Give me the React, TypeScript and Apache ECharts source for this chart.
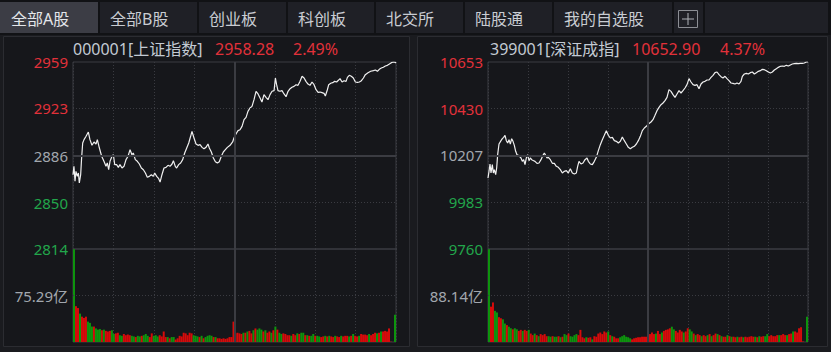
import React, { useEffect, useRef } from 'react';
import * as echarts from 'echarts';

// ---------- data ----------
const tabLabels = ['全部A股', '全部B股', '创业板', '科创板', '北交所', '陆股通', '我的自选股'];

const shName = '000001[上证指数]';
const shLast = '2958.28';
const shPct = '2.49%';
const shTicks = [2814, 2850, 2886, 2923, 2959];
const shVolTick = 75.29;
const shMinutes = [
  0, 0.7, 1.5, 2.2, 3.2, 4, 4.7, 5.7, 6.4, 7.2, 8.2, 9.7, 11.4, 12.6, 14.1, 15.6, 17.1, 18.1, 19.6, 21.3,
  23, 24.5, 25.5, 26.5, 27.5, 29, 30, 31, 32.4, 33.7, 34.9, 36.4, 37.9, 39.4, 40.9, 42.4, 43.8, 44.8, 46.3, 47.8,
  49.3, 50.8, 52.3, 53.8, 55.2, 56.7, 58.2, 59.7, 60.7, 62.2, 63.7, 64.7, 66.1, 67.6, 69.1, 70.6, 72.1, 73.6, 74.6, 76,
  77, 78.5, 80, 81.5, 83, 84.5, 86, 87.4, 88.4, 89.9, 91.4, 92.9, 94.4, 95.9, 97.3, 98.8, 100.3, 101.3, 102.8, 104.3,
  105.8, 107.3, 108.7, 110.2, 111.7, 113.2, 114.7, 116.7, 118.6,
  119.6, 121.1, 122.6, 124.1, 125.6, 127.1, 128.6, 130, 131.5, 133, 134.5, 136, 137.5, 139, 140.4, 141.9, 143.4, 144.9,
  146.4, 147.9, 149.4, 150.4, 151.3, 152.3, 153.8, 155.3, 156.8, 158.3, 159.8, 161.3, 162.7, 164.2, 165.7, 167.2, 168.7,
  170.2, 171.7, 173.1, 174.6, 176.1, 177.6, 179.1, 180.6, 182.1, 183.5, 185, 186.5, 187.5, 189, 190, 191.5, 193, 194.4,
  195.9, 197.4, 198.4, 199.9, 201.4, 202.9, 203.9, 205.3, 206.8, 208.3, 209.8, 211.3, 212.8, 214.3, 215.8, 217.2, 219.2,
  221.2, 223.2, 224.7, 226.2, 227.6, 229.1, 230.6, 232.1, 233.6, 235.1, 236.6, 238, 239.5, 240,
];
const shPrices = [
  2871.6, 2878.1, 2866.5, 2874.2, 2870.3, 2872.9, 2865.2, 2871.6, 2884.6, 2896.2, 2898.8, 2901.4, 2904.7, 2898.8, 2894.4, 2897.0, 2895.4, 2898.8, 2892.3, 2885.9,
  2882.0, 2878.1, 2880.7, 2875.5, 2882.0, 2885.9, 2887.1, 2879.4, 2879.4, 2877.3, 2879.4, 2876.8, 2878.1, 2883.3, 2885.9, 2891.0, 2887.1, 2888.4, 2883.3, 2882.0,
  2879.9, 2876.8, 2875.5, 2872.9, 2869.6, 2870.3, 2871.6, 2870.3, 2872.9, 2870.3, 2868.5, 2865.9, 2871.6, 2876.8, 2877.3, 2878.9, 2878.1, 2879.9, 2882.5, 2878.1,
  2876.8, 2879.4, 2880.7, 2883.3, 2888.4, 2892.3, 2896.2, 2901.4, 2905.2, 2900.1, 2895.4, 2894.4, 2894.9, 2892.8, 2891.8, 2892.8, 2895.4, 2892.3, 2889.2, 2884.6,
  2881.7, 2880.7, 2881.7, 2885.9, 2889.2, 2891.0, 2892.8, 2894.4, 2897.0,
  2900.1, 2903.2, 2905.8, 2906.5, 2909.1, 2914.3, 2916.1, 2920.7, 2923.3, 2924.6, 2929.8, 2936.3, 2934.2, 2931.1, 2928.0, 2933.7, 2931.6, 2929.8,
  2933.7, 2936.3, 2936.8, 2946.6, 2941.4, 2936.8, 2936.3, 2936.8, 2934.2, 2932.1, 2936.3, 2938.3, 2939.4, 2940.1, 2941.4, 2940.9, 2944.0,
  2947.9, 2946.6, 2944.0, 2941.9, 2940.9, 2943.5, 2941.4, 2937.5, 2935.5, 2935.7, 2935.2, 2934.7, 2932.6, 2937.5, 2941.4, 2942.5, 2943.0, 2944.0,
  2943.5, 2945.0, 2946.1, 2943.5, 2944.5, 2944.0, 2947.1, 2948.7, 2947.9, 2946.6, 2943.5, 2943.2, 2943.5, 2944.5, 2946.6, 2949.2, 2950.7,
  2951.8, 2952.3, 2952.8, 2951.8, 2953.3, 2954.3, 2954.9, 2955.9, 2956.4, 2957.4, 2958.5, 2959.0, 2958.7, 2958.28,
];
const shVolumes = [
  150, 58, 55, 46, 41, 39, 41, 33, 31, 25,
  25, 22, 20, 21, 19, 20, 18, 17, 18, 19,
  13, 14, 15, 11, 10, 13, 11, 12, 11, 10,
  9, 8, 10, 9, 10, 11, 13, 10, 8, 14,
  10, 11, 9, 11, 9, 17, 8, 8, 6, 8,
  8, 4, 6, 10, 9, 15, 14, 11, 15, 14,
  11, 10, 9, 8, 10, 6, 8, 10, 11, 10,
  8, 8, 6, 6, 5, 6, 5, 6, 8, 8,
  33, 14, 15, 14, 13, 15, 15, 17, 18, 14,
  19, 22, 20, 22, 20, 17, 19, 15, 17, 15,
  19, 25, 20, 15, 13, 14, 13, 11, 11, 10,
  13, 11, 14, 13, 15, 15, 11, 11, 10, 10,
  13, 10, 10, 9, 8, 9, 10, 9, 10, 9,
  8, 10, 9, 8, 10, 9, 10, 10, 9, 10,
  13, 10, 9, 10, 13, 12, 12, 11, 13, 11,
  13, 15, 14, 15, 17, 17, 18, 17, 22, 0.5,
  0, 44,
];
const shVolDir = (
  'grrgrrrggg' + 'rgggrgrrrg' + 'grrggrrrrg' + 'grggrgggrr' + 'gggrrrrgrg' +
  'grrrrrrrrr' + 'gggrgrgggg' + 'rgrrrrrrrr' + 'rrrrrgrgrr' + 'grgggrgrrg' +
  'rgrggrrrrg' + 'rrgrggrgrg' + 'grggrrgrgr' + 'rgrrgrrrgr' + 'grrgrrrrgr' +
  'rrgrgrrrrr' + 'rg'
).split('');

const szName = '399001[深证成指]';
const szLast = '10652.90';
const szPct = '4.37%';
const szTicks = [9760, 9983, 10207, 10430, 10653];
const szVolTick = 88.14;
const szMinutes = [
  0, 0.75, 1.5, 2.25, 3.25, 4, 4.75, 5.75, 6.5, 7.25, 8.25, 9.75, 10.75, 11.75, 12.75, 13.75, 14.75, 15.75, 16.75, 17.75,
  18.75, 19.75, 20.75, 21.75, 22.75, 23.75, 24.75, 25.75, 26.75, 27.75, 28.75, 29.75, 30.75, 31.75, 32.75, 34.25, 35.25, 36.75, 38.25, 39.75,
  41.25, 42.25, 43.25, 44.25, 45.25, 46.75, 48.25, 49.75, 51.25, 52.75, 54.25, 55.75, 57.25, 58.75, 60.25, 61.75, 63.25, 64.75, 66.25, 67.25,
  68.25, 69.75, 71.25, 72.75, 74.25, 75.25, 76.75, 78.25, 79.75, 81.25, 82.75, 84.25, 85.75, 87.25, 88.75, 90.25, 91.75, 93.25, 94.75, 96.25,
  97.75, 99.25, 100.75, 102.25, 103.75, 105.25, 106.75, 108.25, 109.75, 111.25, 112.75, 114.25, 115.75, 117.25, 118.75, 120.25,
  122.25, 123.75, 125.25, 126.75, 128.25, 129.75, 131.25, 132.75, 134.25, 135.75, 137.25, 138.75, 140.25, 141.75, 143.25, 144.75, 146.25, 147.75,
  149.25, 150.75, 152.25, 153.75, 155.25, 156.75, 158.25, 159.75, 161.25, 162.75, 164.25, 165.75, 167.25, 168.75, 170.25, 171.75, 173.25, 174.75,
  176.25, 177.75, 179.25, 180.75, 182.25, 183.75, 185.25, 186.75, 188.25, 189.75, 190.75, 192.25, 193.75, 195.25, 196.75, 198.25, 199.75, 201.25,
  202.75, 204.25, 205.75, 207.25, 208.75, 210.25, 211.75, 213.25, 214.75, 216.25, 217.75, 219.25, 220.75, 222.25, 223.75, 225.25, 226.75, 228.25,
  229.75, 231.25, 232.75, 234.25, 235.75, 237.25, 238.75, 240,
];
const szPrices = [
  10099.1, 10130.9, 10165.9, 10122.9, 10162.7, 10122.9, 10138.8, 10115.0, 10146.8, 10210.5, 10261.4, 10277.3, 10286.9, 10293.3, 10302.8, 10277.3, 10266.2, 10282.1, 10261.4, 10286.9,
  10274.2, 10255.0, 10226.4, 10210.5, 10207.3, 10200.9, 10194.6, 10178.6, 10186.6, 10162.7, 10194.6, 10210.5, 10181.8, 10194.6, 10186.6, 10181.8, 10178.6, 10169.1, 10170.7, 10186.6,
  10207.3, 10218.4, 10207.3, 10194.6, 10197.7, 10186.6, 10169.1, 10169.1, 10154.8, 10150.0, 10138.8, 10122.9, 10130.9, 10134.1, 10122.9, 10143.6, 10122.9, 10118.2, 10122.9, 10154.8,
  10178.6, 10165.9, 10170.7, 10186.6, 10194.6, 10178.6, 10165.9, 10162.7, 10178.6, 10197.7, 10229.6, 10258.2, 10282.1, 10302.8, 10325.1, 10302.8, 10290.1, 10293.3, 10277.3, 10274.2,
  10266.2, 10274.2, 10294.9, 10277.3, 10261.4, 10245.5, 10239.1, 10245.5, 10250.3, 10261.4, 10277.3, 10298.0, 10325.1, 10337.8, 10345.8, 10356.9,
  10366.5, 10377.6, 10398.3, 10420.6, 10436.5, 10449.2, 10457.2, 10468.4, 10484.3, 10520.9, 10512.9, 10497.0, 10484.3, 10500.2, 10516.1, 10505.0, 10516.1, 10528.8,
  10544.8, 10573.4, 10557.5, 10544.8, 10541.6, 10544.8, 10525.6, 10547.9, 10557.5, 10560.7, 10567.0, 10567.0, 10579.8, 10589.3, 10602.1, 10605.2, 10592.5, 10583.0,
  10576.6, 10584.6, 10573.4, 10563.9, 10552.7, 10551.1, 10547.9, 10552.7, 10547.9, 10560.7, 10584.6, 10595.7, 10598.9, 10595.7, 10602.1, 10605.2, 10595.7, 10602.1,
  10608.4, 10611.6, 10618.0, 10616.4, 10611.6, 10605.2, 10600.5, 10605.2, 10614.8, 10621.2, 10627.5, 10632.3, 10633.9, 10632.3, 10637.1, 10633.9, 10638.7, 10643.4,
  10645.0, 10646.6, 10645.0, 10646.6, 10646.6, 10648.2, 10653.0, 10652.9,
];
const szVolumes = [
  176, 67, 75, 59, 56, 47, 45, 43, 35, 32,
  29, 26, 24, 26, 24, 21, 23, 21, 23, 21,
  23, 16, 13, 16, 13, 11, 15, 13, 15, 11,
  11, 10, 11, 10, 10, 11, 9, 10, 15, 13,
  16, 11, 10, 13, 15, 13, 23, 9, 7, 9,
  8, 9, 5, 11, 10, 16, 18, 15, 20, 18,
  20, 13, 11, 10, 7, 7, 9, 11, 13, 10,
  9, 7, 5, 7, 8, 9, 9, 10, 10, 10,
  39, 15, 18, 15, 16, 21, 15, 18, 21, 23,
  24, 26, 29, 24, 21, 18, 23, 20, 18, 20,
  26, 24, 20, 16, 13, 15, 13, 11, 13, 11,
  13, 15, 11, 13, 16, 15, 13, 11, 10, 10,
  13, 11, 10, 10, 9, 10, 9, 10, 9, 10,
  9, 10, 11, 10, 10, 9, 11, 10, 11, 11,
  15, 11, 13, 11, 11, 13, 13, 13, 15, 13,
  13, 15, 16, 20, 20, 18, 26, 28, 1, 0,
  48,
];
const szVolDir = (
  'grrggrrggr' + 'ggrggrrgrr' + 'grrgrgrrrr' + 'ggrggrgrgg' + 'rggggrrrrg' +
  'rrgrrrrrrr' + 'grgrrrgggg' + 'ggrrrrrrrr' + 'rrrrgrrgrr' + 'rrggrrrrgr' +
  'rggrgrrgrr' + 'grgrrgrgrr' + 'grgrrgrrgr' + 'rrrrgrgrrg' + 'grrrrrgrrr' +
  'grrgrrrrrr' + 'g'
).split('');

// ---------- styles ----------
const RED = '#e2313a';
const GREEN = '#22a64b';
const GRAY = '#a2a7ae';
const BAR_RED = '#d60b0b';
const BAR_GREEN = '#0e950e';
const LINE_SOLID = '#3b3c42';
const LINE_DOT = '#3a3b41';
const FONT = '"Noto Sans", "Noto Sans CJK SC", sans-serif';

type Panel = {
  name: string; last: string; pct: string; ticks: number[]; volTick: number;
  minutes: number[]; prices: number[]; volumes: number[]; dir: string[];
  left: number; width: number; headerX: number[];
};

function buildPanel(p: Panel, k: number) {
  const gP = k * 2, gV = k * 2 + 1;
  const xP = k * 3, xVv = k * 3 + 1, xVc = k * 3 + 2;
  const yP = k * 2, yV = k * 2 + 1;
  const mid = p.ticks[2];
  const grids = [
    { left: p.left, top: 62, width: p.width, height: 187, show: true, borderColor: LINE_SOLID, borderWidth: 1, backgroundColor: 'transparent' },
    { left: p.left, top: 249, width: p.width, height: 93, show: true, borderColor: LINE_SOLID, borderWidth: 1, backgroundColor: 'transparent' },
  ];
  const vSplit = { show: true, lineStyle: { color: LINE_DOT, type: [1, 2], width: 1 } };
  const xAxes = [
    { type: 'value', gridIndex: gP, min: 0, max: 240, interval: 30, axisLine: { show: false }, axisTick: { show: false }, axisLabel: { show: false }, splitLine: vSplit },
    { type: 'value', gridIndex: gV, min: 0, max: 240, interval: 30, axisLine: { show: false }, axisTick: { show: false }, axisLabel: { show: false }, splitLine: vSplit },
    { type: 'category', gridIndex: gV, data: p.volumes.map((_, i) => i), boundaryGap: true, show: false },
  ];
  const yAxes = [
    {
      type: 'value', gridIndex: gP, min: p.ticks[0], max: p.ticks[4],
      axisLine: { show: false }, axisTick: { show: false }, splitLine: { show: false },
      axisLabel: {
        customValues: p.ticks, margin: 5, fontSize: 15, fontFamily: FONT,
        formatter: (v: any) => String(Math.round(Number(v))),
        color: (v: any) => (Number(v) > mid + 0.5 ? RED : Number(v) < mid - 0.5 ? GREEN : GRAY),
      },
    },
    {
      type: 'value', gridIndex: gV, min: 0, max: p.volTick * 2,
      axisLine: { show: false }, axisTick: { show: false }, splitLine: { show: false },
      axisLabel: {
        customValues: [p.volTick], margin: 5, fontSize: 15, fontFamily: FONT, color: GRAY,
        formatter: (v: any) => Number(v).toFixed(2) + '亿',
      },
    },
  ];
  const ml = (data: any[]) => ({ silent: true, symbol: ['none', 'none'], label: { show: false }, animation: false, data });
  const series = [
    {
      type: 'line', xAxisIndex: xP, yAxisIndex: yP, z: 1, silent: true, symbol: 'none',
      data: [[0, mid]], lineStyle: { opacity: 0 },
      markLine: ml([
        { yAxis: p.ticks[1], lineStyle: { color: LINE_DOT, type: [1, 2], width: 1 } },
        { yAxis: p.ticks[3], lineStyle: { color: LINE_DOT, type: [1, 2], width: 1 } },
        { yAxis: mid, lineStyle: { color: LINE_SOLID, type: 'solid', width: 2 } },
        { xAxis: 120, lineStyle: { color: LINE_SOLID, type: 'solid', width: 2 } },
      ]),
    },
    {
      type: 'line', xAxisIndex: xP, yAxisIndex: yP, z: 3, symbol: 'none', silent: true,
      data: p.minutes.map((m, i) => [m, p.prices[i]]),
      lineStyle: { color: '#f0f0f0', width: 1.2 },
    },
    {
      type: 'line', xAxisIndex: xVv, yAxisIndex: yV, z: 1, silent: true, symbol: 'none',
      data: [[0, 0]], lineStyle: { opacity: 0 },
      markLine: ml([
        { yAxis: p.volTick, lineStyle: { color: LINE_DOT, type: [1, 2], width: 1 } },
        { xAxis: 120, lineStyle: { color: LINE_SOLID, type: 'solid', width: 2 } },
      ]),
    },
    {
      type: 'bar', xAxisIndex: xVc, yAxisIndex: yV, z: 3, silent: true, barCategoryGap: '0%',
      data: p.volumes.map((v, i) => ({ value: v, itemStyle: { color: p.dir[i] === 'r' ? BAR_RED : BAR_GREEN } })),
    },
  ];
  const txt = (text: string, x: number, fill: string) => ({
    type: 'text', x, y: 49, silent: true,
    style: { text, fill, font: `16px ${FONT}`, verticalAlign: 'middle', align: 'left' },
  });
  const graphics = [
    txt(p.name, p.headerX[0], '#c3cad3'),
    txt(p.last, p.headerX[1], RED),
    txt(p.pct, p.headerX[2], RED),
  ];
  return { grids, xAxes, yAxes, series, graphics };
}

export default function App() {
  const ref = useRef<HTMLDivElement>(null);
  useEffect(() => {
    if (!ref.current) return;
    const chart = echarts.init(ref.current, undefined, { renderer: 'svg' });
    const panels: Panel[] = [
      { name: shName, last: shLast, pct: shPct, ticks: shTicks, volTick: shVolTick, minutes: shMinutes, prices: shPrices, volumes: shVolumes, dir: shVolDir, left: 73, width: 323, headerX: [73, 215, 293] },
      { name: szName, last: szLast, pct: szPct, ticks: szTicks, volTick: szVolTick, minutes: szMinutes, prices: szPrices, volumes: szVolumes, dir: szVolDir, left: 488, width: 320, headerX: [490, 632, 720] },
    ];
    const built = panels.map((p, k) => buildPanel(p, k));

    const tabEdges = [0, 99, 198, 287, 375, 464, 553, 673, 704, 829];
    const tabGraphics: any[] = [
      { type: 'rect', shape: { x: 0, y: 0, width: 831, height: 35 }, style: { fill: '#111215' }, silent: true, z: -20 },
      { type: 'rect', shape: { x: 3.5, y: 36.5, width: 406, height: 310 }, style: { fill: '#16171b', stroke: '#2b2c31', lineWidth: 1 }, silent: true, z: -20 },
      { type: 'rect', shape: { x: 417.5, y: 36.5, width: 410, height: 310 }, style: { fill: '#16171b', stroke: '#2b2c31', lineWidth: 1 }, silent: true, z: -20 },
    ];
    for (let i = 0; i < tabEdges.length - 1; i++) {
      const x0 = tabEdges[i] + (i === 0 ? 0 : 1);
      const x1 = tabEdges[i + 1] - 1;
      tabGraphics.push({
        type: 'rect', silent: true, z: -10,
        shape: { x: x0, y: 2, width: x1 - x0, height: 31 },
        style: { fill: i === 0 ? '#3c3d45' : '#1f2026' },
      });
      if (i < tabLabels.length) {
        tabGraphics.push({
          type: 'text', silent: true, z: 5, x: tabEdges[i] + 11, y: 19,
          style: { text: tabLabels[i], fill: i === 0 ? '#e4e6ea' : '#c9ccd2', font: `16px ${FONT}`, verticalAlign: 'middle', align: 'left' },
        });
      }
    }
    // "+" add-tab icon
    tabGraphics.push(
      { type: 'rect', silent: true, z: 5, shape: { x: 678.5, y: 10.5, width: 19, height: 17 }, style: { fill: 'none', stroke: '#8c8e94', lineWidth: 1 } },
      { type: 'line', silent: true, z: 5, shape: { x1: 682, y1: 19, x2: 694, y2: 19 }, style: { stroke: '#b0b2b8', lineWidth: 1 } },
      { type: 'line', silent: true, z: 5, shape: { x1: 688, y1: 13, x2: 688, y2: 25 }, style: { stroke: '#b0b2b8', lineWidth: 1 } },
    );

    chart.setOption({
      animation: false,
      backgroundColor: '#1a1b1f',
      grid: built.flatMap((b) => b.grids),
      xAxis: built.flatMap((b) => b.xAxes),
      yAxis: built.flatMap((b) => b.yAxes),
      series: built.flatMap((b) => b.series),
      graphic: { elements: [...tabGraphics, ...built.flatMap((b) => b.graphics)] },
    });
    return () => chart.dispose();
  }, []);
  return <div ref={ref} style={{ position: 'fixed', left: 0, top: 0, width: 831, height: 352 }} />;
}
